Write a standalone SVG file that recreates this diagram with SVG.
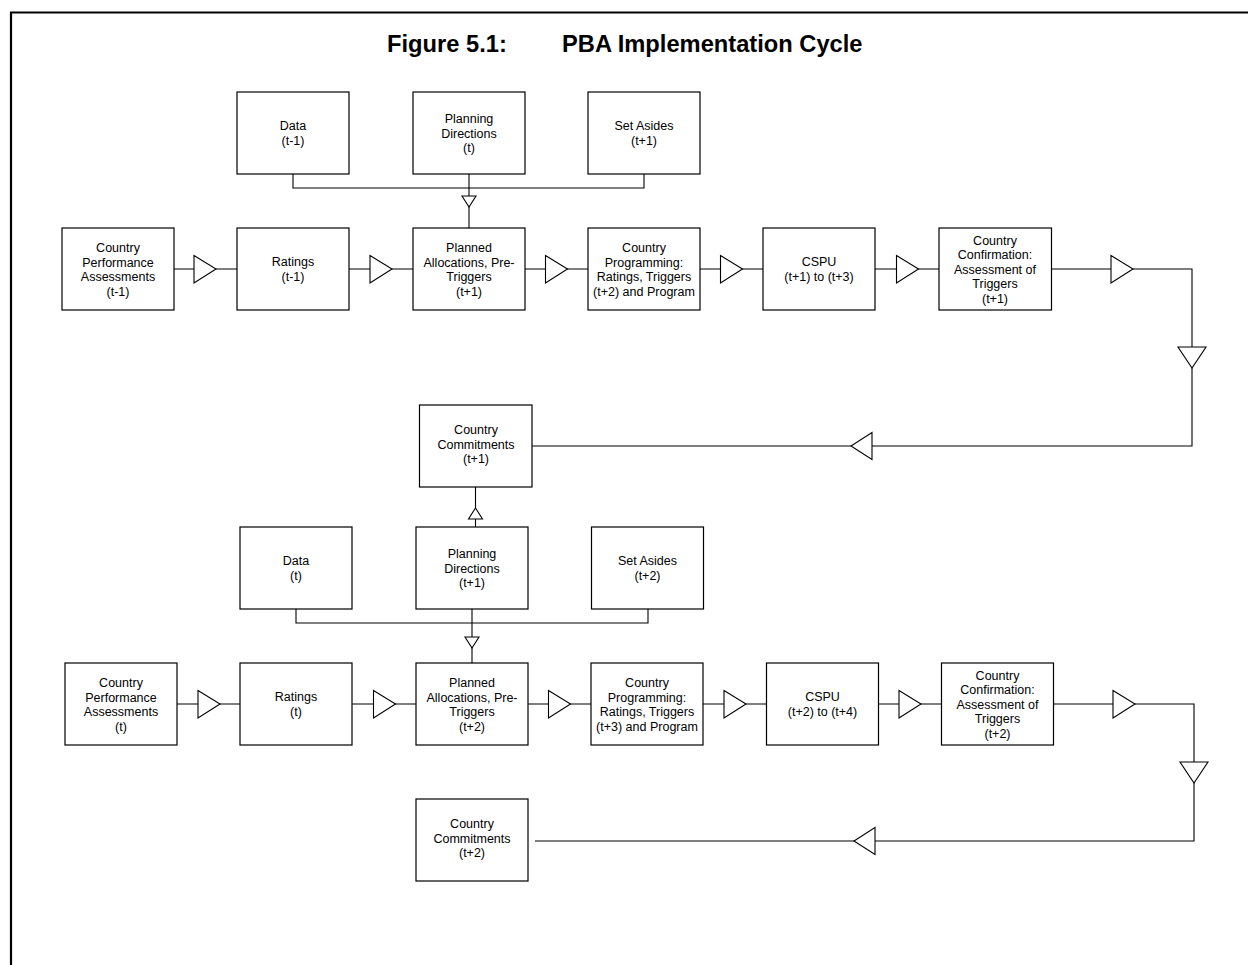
<svg xmlns="http://www.w3.org/2000/svg" width="1248" height="965" viewBox="0 0 1248 965">
<style>
.box{fill:#fff;stroke:#000;stroke-width:1.2}
.ln{fill:none;stroke:#000;stroke-width:1.1}
.tri{fill:#fff;stroke:#000;stroke-width:1.1}
.t{font-family:"Liberation Sans",Arial,sans-serif;font-size:12.5px;text-anchor:middle;fill:#000}
.title{font-family:"Liberation Sans",Arial,sans-serif;font-size:23.7px;font-weight:bold;fill:#000}
.frame{fill:none;stroke:#000;stroke-width:2.2}
</style>
<rect width="1248" height="965" fill="#fff"/>
<path class="frame" d="M11 965 V12.5 H1248"/>
<g id="title">
<text class="title" x="387" y="51.5">Figure 5.1:</text>
<text class="title" x="562" y="51.5">PBA Implementation Cycle</text>
</g>
<g id="connectors">
<path class="ln" d="M293 174 V188 H644 V174"/>
<path class="ln" d="M469 174 V228"/>
<polygon class="tri" points="462,196 476,196 469,207"/>
<path class="ln" d="M174 269 H237 M349 269 H413 M525 269 H588 M700 269 H763 M875 269 H939"/>
<polygon class="tri" points="194,255.5 194,283 216,269"/>
<polygon class="tri" points="370,255.5 370,283 392,269"/>
<polygon class="tri" points="545.5,255.5 545.5,283 567.5,269"/>
<polygon class="tri" points="720.5,255.5 720.5,283 742.5,269"/>
<polygon class="tri" points="896.5,255.5 896.5,283 918.5,269"/>
<path class="ln" d="M1051.5 269 H1192 V446 H532"/>
<polygon class="tri" points="1111,255.5 1111,283 1133,269"/>
<polygon class="tri" points="1178,347 1206,347 1192,368"/>
<polygon class="tri" points="872,432.5 872,459.5 851,446"/>
<path class="ln" d="M475.5 487 V527"/>
<polygon class="tri" points="468.5,519 482.5,519 475.5,508"/>
<path class="ln" d="M296 609 V623 H648 V609"/>
<path class="ln" d="M472 609 V663"/>
<polygon class="tri" points="465,637 479,637 472,648"/>
<path class="ln" d="M177 704 H240 M352 704 H416 M528 704 H591 M703 704 H766.5 M878.5 704 H941.5"/>
<polygon class="tri" points="198,690.5 198,718 220,704"/>
<polygon class="tri" points="373.5,690.5 373.5,718 395.5,704"/>
<polygon class="tri" points="548.5,690.5 548.5,718 570.5,704"/>
<polygon class="tri" points="724,690.5 724,718 746,704"/>
<polygon class="tri" points="899,690.5 899,718 921,704"/>
<path class="ln" d="M1053.5 704 H1194 V841 H535"/>
<polygon class="tri" points="1113,690.5 1113,718 1135,704"/>
<polygon class="tri" points="1180,762 1208,762 1194,783"/>
<polygon class="tri" points="875,827.5 875,854.5 854,841"/>
</g>
<g id="data1"><rect class="box" x="237" y="92" width="112" height="82"/>
<text class="t" x="293" y="130">Data</text><text class="t" x="293" y="144.5">(t-1)</text></g>
<g id="plan1"><rect class="box" x="413" y="92" width="112" height="82"/>
<text class="t" x="469" y="123">Planning</text><text class="t" x="469" y="137.5">Directions</text><text class="t" x="469" y="152">(t)</text></g>
<g id="set1"><rect class="box" x="588" y="92" width="112" height="82"/>
<text class="t" x="644" y="130">Set Asides</text><text class="t" x="644" y="144.5">(t+1)</text></g>
<g id="cpa1"><rect class="box" x="62" y="228" width="112" height="82"/>
<text class="t" x="118" y="252">Country</text><text class="t" x="118" y="266.5">Performance</text><text class="t" x="118" y="281">Assessments</text><text class="t" x="118" y="295.5">(t-1)</text></g>
<g id="rat1"><rect class="box" x="237" y="228" width="112" height="82"/>
<text class="t" x="293" y="266">Ratings</text><text class="t" x="293" y="280.5">(t-1)</text></g>
<g id="pa1"><rect class="box" x="413" y="228" width="112" height="82"/>
<text class="t" x="469" y="252">Planned</text><text class="t" x="469" y="266.5">Allocations, Pre-</text><text class="t" x="469" y="281">Triggers</text><text class="t" x="469" y="295.5">(t+1)</text></g>
<g id="cp1"><rect class="box" x="588" y="228" width="112" height="82"/>
<text class="t" x="644" y="252">Country</text><text class="t" x="644" y="266.5">Programming:</text><text class="t" x="644" y="281">Ratings, Triggers</text><text class="t" x="644" y="295.5">(t+2) and Program</text></g>
<g id="cspu1"><rect class="box" x="763" y="228" width="112" height="82"/>
<text class="t" x="819" y="266">CSPU</text><text class="t" x="819" y="280.5">(t+1) to (t+3)</text></g>
<g id="cc1"><rect class="box" x="939" y="228" width="112.5" height="82"/>
<text class="t" x="995" y="244.5">Country</text><text class="t" x="995" y="259">Confirmation:</text><text class="t" x="995" y="273.5">Assessment of</text><text class="t" x="995" y="288">Triggers</text><text class="t" x="995" y="302.5">(t+1)</text></g>
<g id="com1"><rect class="box" x="419.5" y="405" width="112.5" height="82"/>
<text class="t" x="476" y="434">Country</text><text class="t" x="476" y="448.5">Commitments</text><text class="t" x="476" y="463">(t+1)</text></g>
<g id="data2"><rect class="box" x="240" y="527" width="112" height="82"/>
<text class="t" x="296" y="565">Data</text><text class="t" x="296" y="579.5">(t)</text></g>
<g id="plan2"><rect class="box" x="416" y="527" width="112" height="82"/>
<text class="t" x="472" y="558">Planning</text><text class="t" x="472" y="572.5">Directions</text><text class="t" x="472" y="587">(t+1)</text></g>
<g id="set2"><rect class="box" x="591.5" y="527" width="112" height="82"/>
<text class="t" x="647.5" y="565">Set Asides</text><text class="t" x="647.5" y="579.5">(t+2)</text></g>
<g id="cpa2"><rect class="box" x="65" y="663" width="112" height="82"/>
<text class="t" x="121" y="687">Country</text><text class="t" x="121" y="701.5">Performance</text><text class="t" x="121" y="716">Assessments</text><text class="t" x="121" y="730.5">(t)</text></g>
<g id="rat2"><rect class="box" x="240" y="663" width="112" height="82"/>
<text class="t" x="296" y="701">Ratings</text><text class="t" x="296" y="715.5">(t)</text></g>
<g id="pa2"><rect class="box" x="416" y="663" width="112" height="82"/>
<text class="t" x="472" y="687">Planned</text><text class="t" x="472" y="701.5">Allocations, Pre-</text><text class="t" x="472" y="716">Triggers</text><text class="t" x="472" y="730.5">(t+2)</text></g>
<g id="cp2"><rect class="box" x="591" y="663" width="112" height="82"/>
<text class="t" x="647" y="687">Country</text><text class="t" x="647" y="701.5">Programming:</text><text class="t" x="647" y="716">Ratings, Triggers</text><text class="t" x="647" y="730.5">(t+3) and Program</text></g>
<g id="cspu2"><rect class="box" x="766.5" y="663" width="112" height="82"/>
<text class="t" x="822.5" y="701">CSPU</text><text class="t" x="822.5" y="715.5">(t+2) to (t+4)</text></g>
<g id="cc2"><rect class="box" x="941.5" y="663" width="112" height="82"/>
<text class="t" x="997.5" y="679.5">Country</text><text class="t" x="997.5" y="694">Confirmation:</text><text class="t" x="997.5" y="708.5">Assessment of</text><text class="t" x="997.5" y="723">Triggers</text><text class="t" x="997.5" y="737.5">(t+2)</text></g>
<g id="com2"><rect class="box" x="416" y="799" width="112" height="82"/>
<text class="t" x="472" y="828">Country</text><text class="t" x="472" y="842.5">Commitments</text><text class="t" x="472" y="857">(t+2)</text></g>
</svg>
